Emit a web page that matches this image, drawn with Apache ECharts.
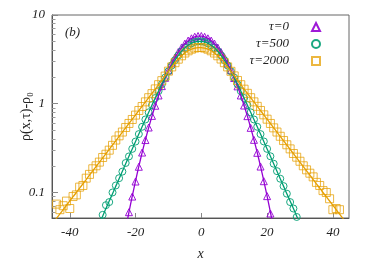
<!DOCTYPE html>
<html><head><meta charset="utf-8">
<script src="https://cdn.jsdelivr.net/npm/echarts@6/dist/echarts.min.js"></script>
<style>html,body{margin:0;padding:0;background:#fff}#c{width:374px;height:262px}</style>
</head><body><div id="c"></div>
<script>
// ---- data ----
const xTicks = [-40, -20, 0, 20, 40];
const yMajor = [0.1, 1, 10];
const yMinor = [0.06,0.07,0.08,0.09,0.2,0.3,0.4,0.5,0.6,0.7,0.8,0.9,2,3,4,5,6,7,8,9];
const names = ['τ=0', 'τ=500', 'τ=2000'];

// tau = 0 (triangles)
const x0 = [-22,-21,-20,-19,-18,-17,-16,-15,-14,-13,-12,-11,-10,-9,-8,-7,-6,-5,-4,-3,-2,-1,0,1,2,3,4,5,6,7,8,9,10,11,12,13,14,15,16,17,18,19,20,21];
const y0 = [0.060,0.090,0.133,0.195,0.282,0.39,0.54,0.73,0.95,1.24,1.58,1.96,2.38,2.85,3.32,3.83,4.31,4.76,5.15,5.46,5.69,5.80,5.80,5.68,5.46,5.15,4.76,4.30,3.82,3.34,2.84,2.39,1.95,1.57,1.24,0.955,0.725,0.535,0.392,0.28,0.196,0.134,0.091,0.058];
const fitX0 = [-23,-22,-21,-20,-19,-18,-17,-16,-15,-14,-13,-12,-11,-10,-9,-8,-7,-6,-5,-4,-3,-2,-1,0,1,2,3,4,5,6,7,8,9,10,11,12,13,14,15,16,17,18,19,20,21,22];
const fitY0 = [0.039,0.060,0.091,0.135,0.197,0.281,0.393,0.539,0.725,0.956,1.24,1.57,1.95,2.38,2.84,3.33,3.82,4.30,4.75,5.14,5.45,5.67,5.79,5.79,5.67,5.45,5.14,4.75,4.30,3.82,3.33,2.84,2.38,1.95,1.57,1.24,0.956,0.725,0.539,0.393,0.281,0.197,0.135,0.091,0.060,0.039];

// tau = 500 (circles)
const x500 = [-30,-29,-28,-27,-26,-25,-24,-23,-22,-21,-20,-19,-18,-17,-16,-15,-14,-13,-12,-11,-10,-9,-8,-7,-6,-5,-4,-3,-2,-1,0,1,2,3,4,5,6,7,8,9,10,11,12,13,14,15,16,17,18,19,20,21,22,23,24,25,26,27,28,29];
const y500 = [0.056,0.072,0.078,0.1,0.12,0.145,0.172,0.215,0.255,0.31,0.375,0.455,0.55,0.665,0.8,0.965,1.16,1.39,1.66,1.97,2.32,2.7,3.1,3.5,3.9,4.26,4.56,4.8,4.97,5.05,5.05,4.97,4.8,4.56,4.26,3.9,3.5,3.1,2.7,2.32,1.97,1.66,1.39,1.16,0.965,0.8,0.665,0.55,0.455,0.376,0.31,0.256,0.211,0.174,0.143,0.118,0.097,0.078,0.066,0.053];
const fitX500 = [-31,-30,-29,-28,-27,-26,-25,-24,-23,-22,-21,-20,-19,-18,-17,-16,-15,-14,-13,-12,-11,-10,-9,-8,-7,-6,-5,-4,-3,-2,-1,0,1,2,3,4,5,6,7,8,9,10,11,12,13,14,15,16,17,18,19,20,21,22,23,24,25,26,27,28,29,30];
const fitY500 = [0.045,0.054,0.066,0.08,0.097,0.118,0.143,0.174,0.211,0.256,0.31,0.376,0.455,0.55,0.665,0.8,0.965,1.16,1.39,1.66,1.97,2.32,2.7,3.1,3.5,3.9,4.26,4.56,4.8,4.97,5.05,5.05,4.97,4.8,4.56,4.26,3.9,3.5,3.1,2.7,2.32,1.97,1.66,1.39,1.16,0.965,0.8,0.665,0.55,0.455,0.376,0.31,0.256,0.211,0.174,0.143,0.118,0.097,0.08,0.066,0.054,0.045];

// tau = 2000 (squares)
const x2000 = [-44,-43,-42,-41,-40,-39,-38,-37,-36,-35,-34,-33,-32,-31,-30,-29,-28,-27,-26,-25,-24,-23,-22,-21,-20,-19,-18,-17,-16,-15,-14,-13,-12,-11,-10,-9,-8,-7,-6,-5,-4,-3,-2,-1,0,1,2,3,4,5,6,7,8,9,10,11,12,13,14,15,16,17,18,19,20,21,22,23,24,25,26,27,28,29,30,31,32,33,34,35,36,37,38,39,40,41,42];
const y2000 = [0.074,0.064,0.071,0.08,0.066,0.09,0.094,0.115,0.12,0.145,0.16,0.185,0.2,0.22,0.248,0.27,0.3,0.34,0.39,0.435,0.48,0.54,0.6,0.665,0.745,0.84,0.93,1.05,1.17,1.3,1.47,1.64,1.82,2.05,2.33,2.6,2.9,3.18,3.47,3.73,3.95,4.12,4.24,4.3,4.3,4.24,4.12,3.95,3.73,3.47,3.19,2.9,2.6,2.32,2.06,1.83,1.64,1.46,1.31,1.17,1.05,0.935,0.84,0.75,0.67,0.6,0.535,0.48,0.43,0.385,0.345,0.31,0.275,0.25,0.225,0.2,0.18,0.165,0.15,0.13,0.12,0.105,0.1,0.085,0.064,0.066,0.064];
const fitX2000 = [-45,-44,-43,-42,-41,-40,-39,-38,-37,-36,-35,-34,-33,-32,-31,-30,-29,-28,-27,-26,-25,-24,-23,-22,-21,-20,-19,-18,-17,-16,-15,-14,-13,-12,-11,-10,-9,-8,-7,-6,-5,-4,-3,-2,-1,0,1,2,3,4,5,6,7,8,9,10,11,12,13,14,15,16,17,18,19,20,21,22,23,24,25,26,27,28,29,30,31,32,33,34,35,36,37,38,39,40,41,42,43,44];
const fitY2000 = [0.0459,0.0513,0.0573,0.0641,0.0717,0.0802,0.0897,0.100,0.112,0.125,0.140,0.157,0.175,0.196,0.219,0.245,0.274,0.306,0.343,0.383,0.428,0.479,0.536,0.599,0.67,0.749,0.837,0.936,1.047,1.171,1.309,1.464,1.637,1.83,2.06,2.32,2.6,2.9,3.19,3.47,3.73,3.95,4.12,4.24,4.3,4.3,4.24,4.12,3.95,3.73,3.47,3.19,2.9,2.6,2.32,2.06,1.83,1.637,1.464,1.309,1.171,1.047,0.936,0.837,0.749,0.67,0.599,0.536,0.479,0.428,0.383,0.343,0.306,0.274,0.245,0.219,0.196,0.175,0.157,0.140,0.125,0.112,0.100,0.0897,0.0802,0.0717,0.0641,0.0573,0.0513,0.0459];

// ---- styling ----
const colors = ['#9400d3', '#009e73', '#e69f00'];
const symbols = ['triangle', 'circle', 'rect'];
const sizes = [7, 7, 8];
const FONT = 'Liberation Serif';
const pair = (xs, ys) => xs.map((x, i) => [x, ys[i]]);
const ptsX = [x0, x500, x2000], ptsY = [y0, y500, y2000];
const fitXs = [fitX0, fitX500, fitX2000], fitYs = [fitY0, fitY500, fitY2000];

const series = [];
for (let i = 0; i < 3; i++) {
  series.push({
    name: names[i], type: 'scatter', symbol: symbols[i], symbolSize: sizes[i],
    data: pair(ptsX[i], ptsY[i]),
    itemStyle: { color: 'rgba(0,0,0,0)', borderColor: colors[i], borderWidth: 1, opacity: i === 2 ? 0.75 : 0.9 },
    emphasis: { disabled: true }, z: 2
  });
  series.push({
    name: names[i] + ' fit', type: 'line', data: pair(fitXs[i], fitYs[i]),
    showSymbol: false, smooth: 0.3, lineStyle: { color: colors[i], width: 1.3 },
    emphasis: { disabled: true }, z: 3
  });
}

const chart = echarts.init(document.getElementById('c'), null, { renderer: 'canvas' });
chart.setOption({
  animation: false,
  backgroundColor: '#fff',
  grid: { left: 52, right: 25, top: 15, bottom: 44, show: true, borderColor: '#666', borderWidth: 1, outerBoundsMode: 'none', containLabel: false },
  xAxis: {
    type: 'value', min: -45.4, max: 44.9,
    name: 'x', nameLocation: 'middle', nameGap: 29, nameMoveOverlap: false,
    nameTextStyle: { fontFamily: FONT, fontStyle: 'italic', fontSize: 14, color: '#222' },
    axisLine: { onZero: false, lineStyle: { color: '#555' } },
    axisTick: { inside: true, length: 5, customValues: xTicks, lineStyle: { color: '#888' } },
    axisLabel: { customValues: xTicks, margin: 8, fontFamily: FONT, fontStyle: 'italic', fontSize: 13, color: '#222' },
    splitLine: { show: false }
  },
  yAxis: [{
    type: 'log', logBase: 10, min: 0.0516, max: 10,
    name: 'ρ(x,τ)-ρ₀', nameLocation: 'middle', nameGap: 19, nameRotate: 90, nameMoveOverlap: false,
    nameTextStyle: { fontFamily: FONT, fontSize: 14, color: '#222' },
    axisLine: { show: true, onZero: false, lineStyle: { color: '#555' } },
    axisTick: { inside: true, length: 6, customValues: yMajor, lineStyle: { color: '#888' } },
    axisLabel: { customValues: yMajor, margin: 7, formatter: v => String(v), fontFamily: FONT, fontStyle: 'italic', fontSize: 13, color: '#222' },
    splitLine: { show: false }
  }, {
    type: 'log', logBase: 10, min: 0.0516, max: 10, position: 'left',
    axisLine: { show: false, onZero: false },
    axisTick: { inside: true, length: 3.5, customValues: yMinor, lineStyle: { color: '#999' } },
    axisLabel: { show: false },
    splitLine: { show: false }
  }],
  legend: {
    data: names, orient: 'vertical', align: 'right', right: 48, top: 15.5,
    itemWidth: 8, itemHeight: 8, itemGap: 4,
    textStyle: { fontFamily: FONT, fontStyle: 'italic', fontSize: 13, lineHeight: 13, color: '#222', padding: [0, 18, 0, 0] },
    selectedMode: false
  },
  graphic: [{ type: 'text', left: 65, top: 26, style: { text: '(b)', font: 'italic 13px "Liberation Serif"', fill: '#222' } }],
  series: series
});
</script>
</body></html>
